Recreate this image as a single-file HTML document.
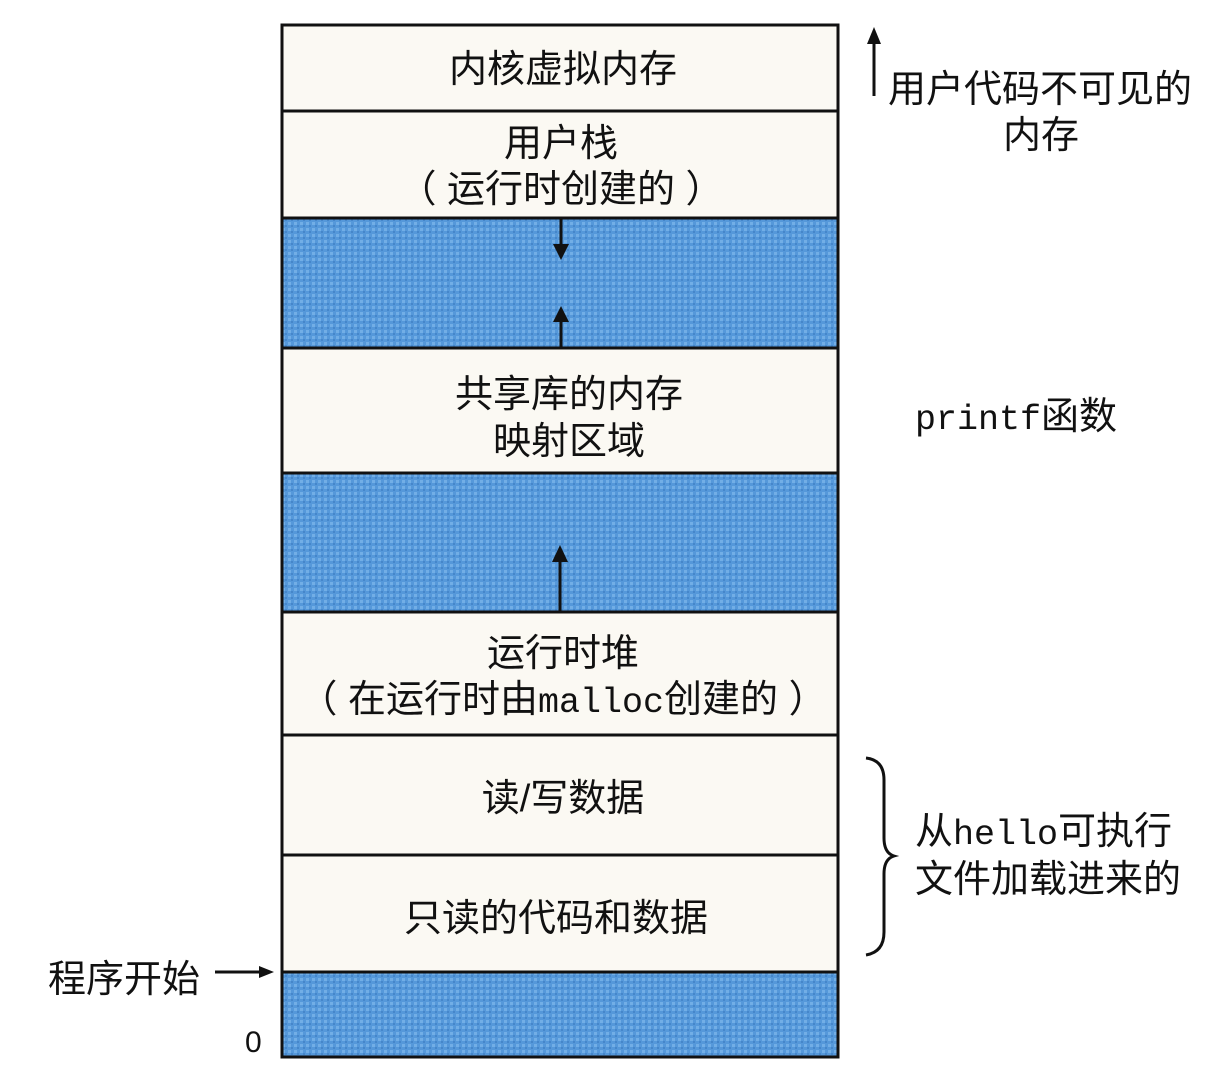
<!DOCTYPE html>
<html><head><meta charset="utf-8"><style>
html,body{margin:0;padding:0;background:#fff;}
svg{display:block;}
.c{font-family:"Liberation Sans","Noto Sans CJK SC",sans-serif;font-size:38px;fill:#111;}
.m{font-family:"Liberation Mono","Noto Sans CJK SC",monospace;}
</style></head><body>
<svg width="1225" height="1090" viewBox="0 0 1225 1090" xmlns="http://www.w3.org/2000/svg">
<defs>
<pattern id="p" width="6" height="6" patternUnits="userSpaceOnUse">
<rect width="6" height="6" fill="#5598da"/>
<rect x="0" y="0" width="3" height="3" fill="#72aee6"/>
<rect x="3" y="3" width="2" height="2" fill="#4586ca"/>
</pattern>
</defs>
<rect x="0" y="0" width="1225" height="1090" fill="#fff"/>
<rect x="282" y="25" width="556" height="1032" fill="#fbf9f3"/>
<rect x="282" y="218" width="556" height="130" fill="url(#p)"/>
<rect x="282" y="473" width="556" height="139" fill="url(#p)"/>
<rect x="282" y="972" width="556" height="85" fill="url(#p)"/>
<g stroke="#111" stroke-width="3" fill="none">
<rect x="282" y="25" width="556" height="1032"/>
<line x1="282" y1="111" x2="838" y2="111"/>
<line x1="282" y1="218" x2="838" y2="218"/>
<line x1="282" y1="348" x2="838" y2="348"/>
<line x1="282" y1="473" x2="838" y2="473"/>
<line x1="282" y1="612" x2="838" y2="612"/>
<line x1="282" y1="735" x2="838" y2="735"/>
<line x1="282" y1="855" x2="838" y2="855"/>
<line x1="282" y1="972" x2="838" y2="972"/>
</g>
<g stroke="#111" stroke-width="3">
<line x1="561" y1="218" x2="561" y2="248"/>
<line x1="561" y1="318" x2="561" y2="348"/>
<line x1="560" y1="560" x2="560" y2="612"/>
<line x1="874" y1="40" x2="874" y2="96"/>
<line x1="215" y1="972" x2="262" y2="972"/>
</g>
<g fill="#111">
<polygon points="553,244 569,244 561,260"/>
<polygon points="553,322 569,322 561,306"/>
<polygon points="552,562 568,562 560,545"/>
<polygon points="867,44 881,44 874,27"/>
<polygon points="259,966 259,978 274,972"/>
</g>
<path d="M866,758 Q884,760 884,780 L884,838 Q884,853 894,856 Q884,859 884,874 L884,932 Q884,952 866,955" stroke="#111" stroke-width="3" fill="none"/>
<g class="c" text-anchor="middle">
<text x="563" y="82">内核虚拟内存</text>
<text x="561" y="156">用户栈</text>
<text x="561" y="202">（ 运行时创建的 ）</text>
<text x="569" y="407">共享库的内存</text>
<text x="569" y="454">映射区域</text>
<text x="563" y="666">运行时堆</text>
<text x="563" y="712">（ 在运行时由<tspan class="m" font-size="35">malloc</tspan>创建的 ）</text>
<text x="563" y="811">读/写数据</text>
<text x="556" y="931">只读的代码和数据</text>
<text x="1041" y="148">内存</text>
</g>
<g class="c">
<text x="888" y="102">用户代码不可见的</text>
<text x="915" y="429"><tspan class="m" font-size="35">printf</tspan>函数</text>
<text x="915" y="844">从<tspan class="m" font-size="35">hello</tspan>可执行</text>
<text x="915" y="892">文件加载进来的</text>
<text x="48" y="992">程序开始</text>
<text x="245" y="1052" font-size="30">0</text>
</g>
</svg>
</body></html>
